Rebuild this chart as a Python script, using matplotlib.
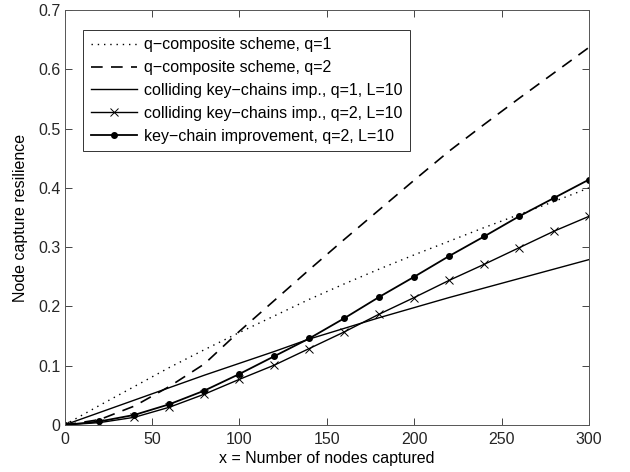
import matplotlib.pyplot as plt

plt.rcParams['font.family'] = ['Liberation Sans', 'DejaVu Sans']

# nodes captured
x = [0, 20, 40, 60, 80, 100, 120, 140, 160, 180, 200, 220, 240, 260, 280, 300]

# resilience values
q_comp_q1 = [0, 0.033, 0.065, 0.097, 0.127, 0.156, 0.184, 0.212, 0.238, 0.263,
             0.287, 0.310, 0.333, 0.355, 0.377, 0.400]
q_comp_q2 = [0, 0.009, 0.032, 0.065, 0.103, 0.158, 0.210, 0.262, 0.313, 0.363,
             0.413, 0.462, 0.507, 0.551, 0.594, 0.637]
colliding_q1 = [0, 0.021, 0.042, 0.063, 0.084, 0.104, 0.124, 0.145, 0.163, 0.181,
                0.198, 0.215, 0.231, 0.247, 0.263, 0.279]
colliding_q2 = [0, 0.004, 0.013, 0.030, 0.052, 0.077, 0.101, 0.129, 0.157, 0.187,
                0.215, 0.244, 0.271, 0.299, 0.327, 0.352]
keychain_q2 = [0, 0.006, 0.017, 0.035, 0.058, 0.086, 0.116, 0.146, 0.180, 0.216,
               0.250, 0.285, 0.318, 0.352, 0.383, 0.414]

labels = ['q\u2212composite scheme, q=1',
          'q\u2212composite scheme, q=2',
          'colliding key\u2212chains imp., q=1, L=10',
          'colliding key\u2212chains imp., q=2, L=10',
          'key\u2212chain improvement, q=2, L=10']

FS = 11.5

fig = plt.figure(figsize=(6.3, 4.72), dpi=100)
ax = fig.add_axes([0.1024, 0.0996, 0.8326, 0.8792])

ax.plot(x, q_comp_q1, color='black', linestyle=(0, (1, 3.5)), linewidth=1.0, label=labels[0])
ax.plot(x, q_comp_q2, color='black', linestyle=(0, (7, 5)), linewidth=1.2, label=labels[1])
ax.plot(x, colliding_q1, color='black', linestyle='-', linewidth=1.0, label=labels[2])
ax.plot(x, colliding_q2, color='black', linestyle='-', linewidth=1.0, marker='x',
        markersize=6, markeredgewidth=0.7, label=labels[3])
ax.plot(x, keychain_q2, color='black', linestyle='-', linewidth=1.3, marker='o',
        markersize=4, label=labels[4])

ax.set_xlim(0, 300)
ax.set_ylim(0, 0.7)
ax.set_xticks([0, 50, 100, 150, 200, 250, 300])
ax.set_yticks([0, 0.1, 0.2, 0.3, 0.4, 0.5, 0.6, 0.7])
ax.set_yticklabels(['0', '0.1', '0.2', '0.3', '0.4', '0.5', '0.6', '0.7'])
ax.tick_params(direction='in', top=True, right=True, length=5, width=0.6,
               labelsize=FS, colors='#262626')
ax.tick_params(axis='x', pad=5)
ax.tick_params(axis='y', pad=3)
for s in ax.spines.values():
    s.set_linewidth(0.7)
    s.set_color('#555555')

ax.set_xlabel('x = Number of nodes captured', fontsize=FS, labelpad=3)
ax.set_ylabel('Node capture resilience', fontsize=FS, labelpad=7)

leg = ax.legend(loc='upper left', bbox_to_anchor=(0.036, 0.952), fontsize=FS,
                frameon=True, fancybox=False, framealpha=1, edgecolor='#333333',
                handlelength=2.9, handletextpad=0.45, labelspacing=0.5,
                borderpad=0.45, borderaxespad=0)
leg.get_frame().set_linewidth(0.7)

plt.savefig('out.png', dpi=100)
